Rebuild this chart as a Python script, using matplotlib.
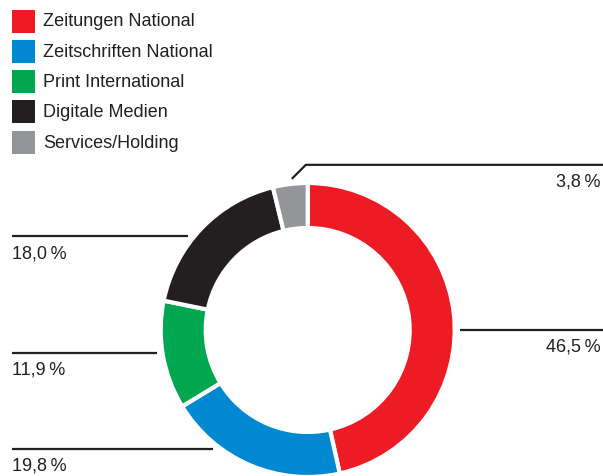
import numpy as np
import matplotlib.pyplot as plt
from matplotlib.patches import Rectangle

plt.rcParams['font.family'] = ['Liberation Sans', 'DejaVu Sans']

# ----------------------------------------------------------------------
# data: Umsatzanteile nach Segment (in %)
# ----------------------------------------------------------------------
segments = ["Zeitungen National", "Zeitschriften National",
            "Print International", "Digitale Medien", "Services/Holding"]
shares = [46.5, 19.8, 11.9, 18.0, 3.8]
share_labels = ["46,5\u2009%", "19,8\u2009%", "11,9\u2009%", "18,0\u2009%", "3,8\u2009%"]
colors = ["#ED1C24", "#0088D1", "#00A650", "#231F20", "#939598"]

# layout (pixel-like coordinates, y from bottom)
W, H = 603, 477
cx, cy = 307.7, 146.0
leader_angle = [0.0, 231.5, 188.7, 142.0, 96.0]   # where the leader touches
leader_side = ["right", "left", "left", "left", "right"]
ink = "#231F20"
fs = 13

fig = plt.figure(figsize=(W / 100, H / 100), dpi=100)
ax = fig.add_axes([0, 0, 1, 1])

ax.pie(shares, colors=colors, startangle=90, counterclock=False,
       center=(cx, cy), radius=147, frame=True,
       wedgeprops=dict(width=45, edgecolor="white", linewidth=3))

r_anchor = 152
for ang, side, lab in zip(leader_angle, leader_side, share_labels):
    ax_ = cx + r_anchor * np.cos(np.radians(ang))
    ay_ = cy + r_anchor * np.sin(np.radians(ang))
    if side == "left":
        ax.plot([12, ax_], [ay_, ay_], color=ink, lw=1.6, solid_capstyle="butt")
        ax.text(12, ay_ - 16.5, lab, ha="left", va="center",
                fontsize=fs, color=ink)
    else:
        if abs(ang) < 1e-6:
            xs, ys = [ax_, W], [ay_, ay_]
            ty = ay_
        else:
            ty = ay_ + 14
            xs, ys = [ax_, ax_ + 14, W], [ay_, ty, ty]
        ax.plot(xs, ys, color=ink, lw=1.6, solid_capstyle="butt")
        ax.text(601, ty - 16.5, lab, ha="right", va="center",
                fontsize=fs, color=ink)

# legend with square markers
for i, (name, col) in enumerate(zip(segments, colors)):
    yc = H - (22 + i * 30.3)
    ax.add_patch(Rectangle((12, yc - 11.5), 23, 23, facecolor=col,
                           edgecolor="none"))
    ax.text(43, yc, name, ha="left", va="center", fontsize=fs, color=ink)

ax.set_xlim(0, W)
ax.set_ylim(0, H)
ax.set_aspect("equal")
ax.set_axis_off()

fig.savefig("out.png", dpi=100)
